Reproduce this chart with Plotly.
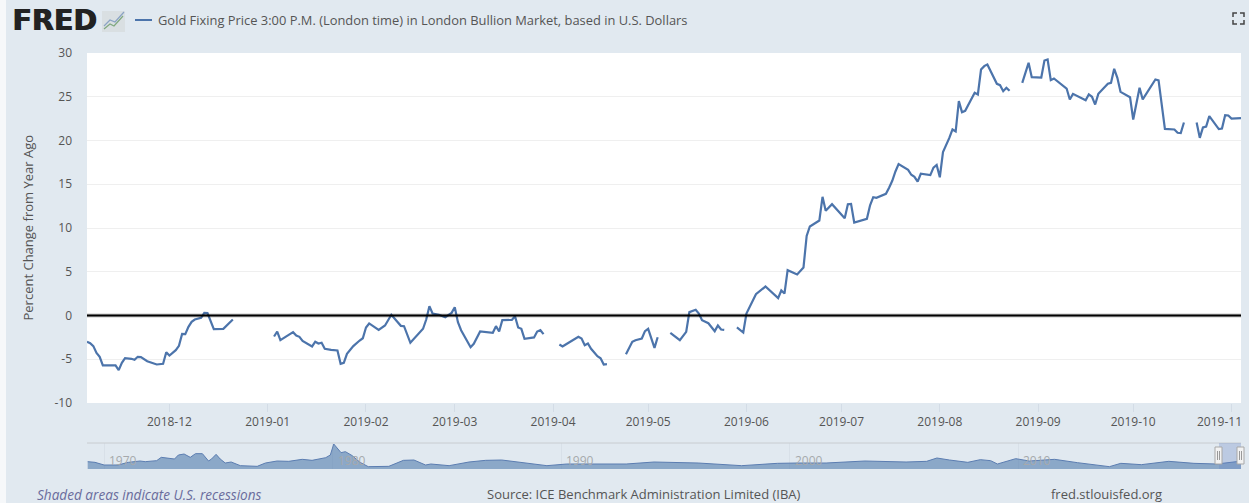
import pandas as pd
import plotly.graph_objects as go

W, H = 1249, 503
START = "2018-11-05"
END = "2019-11-04"

days_1 = [0,1,2,3,4,5,9,10,11,12,14,15,16,17,19,21,22,24,25,26,28,29,30,31,32,33,34,36,37,38,40,43,46]
pct_1 = [-3.0,-3.16,-3.5,-4.27,-4.72,-5.71,-5.71,-6.25,-5.4,-4.88,-4.95,-5.07,-4.72,-4.76,-5.22,-5.45,-5.6,-5.52,-4.2,-4.57,-3.96,-3.47,-2.1,-2.13,-1.3,-0.72,-0.46,-0.27,0.3,0.27,-1.56,-1.52,-0.46]
days_2 = [59,60,61,65,66,67,68,71,72,73,74,75,77,79,80,81,82,84,86,87,88,89,92,94,96,98,99,100,102,106,107,108,109,111,113,115,116,117,118,121,122,124,126,128,129,130,131,134,135,136,137,138,141,142,143,144]
pct_2 = [-2.4,-1.83,-2.82,-1.9,-2.29,-2.44,-2.9,-3.54,-3.0,-3.2,-3.12,-3.8,-3.92,-4.0,-5.52,-5.4,-4.38,-3.5,-2.86,-2.6,-1.37,-0.91,-1.64,-1.14,0.08,-0.76,-1.18,-1.22,-3.12,-1.52,-0.46,1.07,0.23,0.08,-0.19,0.3,0.95,-0.76,-1.68,-3.62,-3.24,-1.83,-1.94,-1.98,-1.22,-1.83,-0.53,-0.5,-0.08,-1.37,-1.52,-2.67,-2.51,-1.83,-1.68,-2.13]
days_3 = [149,150,151,155,156,157,158,159,161,162,163,164]
pct_3 = [-3.31,-3.54,-3.31,-2.44,-2.63,-3.39,-3.2,-3.81,-4.65,-4.88,-5.6,-5.56]
days_4 = [170,172,173,175,176,177,179,180]
pct_4 = [-4.42,-3.01,-2.82,-2.63,-1.79,-1.52,-3.7,-2.48]
days_5 = [184,187,189,190,192,193,194,196,198,199,200,201]
pct_5 = [-1.98,-2.82,-1.87,0.38,0.65,0.23,-0.53,-0.88,-1.79,-1.14,-1.6,-1.64]
days_6 = [205,207,208,211,214,218,219,220,221,224,226,227,228,231,232,233,235,239,240,241,242,246,247,248,249,252,253,254,255,256,259,260,261,262,263,266,267,268,269,270,272,273,274,275,276,277,280,281,282,283,284,287,288,289,290,291]
pct_6 = [-1.35,-1.94,0.23,2.44,3.31,1.98,2.86,2.51,5.18,4.69,5.49,9.1,10.17,10.86,13.56,11.96,12.72,11.12,12.72,12.76,10.63,11.05,12.6,13.52,13.45,13.9,14.6,15.4,16.46,17.3,16.65,16.08,15.85,15.3,16.2,16.04,16.9,17.2,15.8,18.67,20.3,21.26,21.03,24.5,23.24,23.39,25.45,25.26,28.11,28.5,28.69,26.48,26.32,25.64,26.02,25.68]
days_7 = [295,297,298,301,302,303,304,305,309,310,311,315,316,317,318,319,322,323,324,325,326,329,330,332,333,337,338,340,343,344,345,346]
pct_7 = [26.59,28.88,27.24,27.2,29.14,29.26,26.9,27.09,25.94,24.69,25.33,24.6,25.26,25.0,24.11,25.33,26.5,26.6,28.19,27.16,25.56,24.95,22.4,26.02,24.69,26.97,26.86,21.33,21.26,20.88,20.84,22.06]
days_8 = [350,351,352,353,354,357,358,359,360,361,364]
pct_8 = [22.06,20.3,21.49,21.6,22.78,21.3,21.37,22.9,22.86,22.51,22.55]

nav_year = [1969.28,1969.6,1970.0,1970.6,1971.06,1971.57,1971.8,1972.3,1972.5,1973.08,1973.25,1973.5,1973.77,1974.0,1974.3,1974.57,1974.7,1974.9,1975.08,1975.3,1975.56,1975.96,1976.7,1977.06,1977.57,1978.08,1978.67,1979.1,1979.7,1979.9,1980.05,1980.2,1980.37,1980.56,1980.86,1981.2,1981.56,1982.46,1982.97,1983.1,1983.56,1984.07,1984.3,1985.1,1985.97,1986.7,1987.4,1987.98,1989.38,1990.25,1991.66,1992.85,1994.07,1996.0,1997.9,1999.47,2000.35,2001.6,2003.3,2005.1,2006.0,2006.45,2007.0,2007.8,2008.35,2008.8,2009.1,2009.9,2010.5,2011.6,2012.6,2014.0,2014.5,2015.4,2016.6,2017.7,2018.7,2019.55,2019.8]
nav_level = [22,20,12,12,20,24,22,25,35,30,42,45,35,46,46,24,30,44,30,18,21,10,8,18,24,23,29,26,34,42,75,62,49,52,40,20,7,8,22,26,27,12,15,10,21,26,27,22,10,15,15,15,21,18,10,17,18,18,24,21,23,33,27,20,28,25,15,31,24,29,19,7,17,13,23,17,15,22,24]
nav_decades = [1970,1980,1990,2000,2010]

month_ticks = ["2018-12-01","2019-01-01","2019-02-01","2019-03-01","2019-04-01","2019-05-01","2019-06-01","2019-07-01","2019-08-01","2019-09-01","2019-10-01","2019-11-01"]
month_labels = ["2018-12","2019-01","2019-02","2019-03","2019-04","2019-05","2019-06","2019-07","2019-08","2019-09","2019-10",""]
y_ticks = [-10,-5,0,5,10,15,20,25,30]
y_labels = ["-10","-5","0","5","10","15","20","25","30"]

TITLE = "Gold Fixing Price 3:00 P.M. (London time) in London Bullion Market, based in U.S. Dollars"

BG = "#E1E9F0"
LINE = "#4C74AB"
TEXT = "#555555"
FONT = "Open Sans"

def px(x): return x / W
def py(y): return 1 - y / H

days, pct = [], []
segments = [(days_1,pct_1),(days_2,pct_2),(days_3,pct_3),(days_4,pct_4),(days_5,pct_5),(days_6,pct_6),(days_7,pct_7),(days_8,pct_8)]
for d, v in segments:
    days += d + [d[-1] + 1]
    pct += v + [None]
dates = (pd.Timestamp(START) + pd.to_timedelta(days, unit="D")).strftime("%Y-%m-%d").tolist()

fig = go.Figure()
fig.add_trace(go.Scatter(x=dates, y=pct, mode="lines", connectgaps=False,
                         line=dict(color=LINE, width=2.2), showlegend=False, hoverinfo="x+y"))
fig.add_trace(go.Scatter(x=nav_year, y=nav_level, mode="lines", xaxis="x2", yaxis="y2",
                         fill="tozeroy", fillcolor="rgba(69,114,167,0.55)",
                         line=dict(color="#5B7DB1", width=1), showlegend=False, hoverinfo="skip"))

def rect(x0, y0, x1, y1, fill, line=None, layer="below", lw=1):
    return dict(type="rect", xref="paper", yref="paper", x0=px(x0), x1=px(x1), y0=py(y0), y1=py(y1),
                fillcolor=fill, line=dict(color=line or "rgba(0,0,0,0)", width=lw if line else 0), layer=layer)

def pline(pts, color, width=1.2, layer="above"):
    path = "M " + " L ".join(f"{px(x):.5f},{py(y):.5f}" for x, y in pts)
    return dict(type="path", xref="paper", yref="paper", path=path, line=dict(color=color, width=width), layer=layer)

shapes = [
    rect(0, 0, 6, 503, "#F6F8FA"),
    rect(87, 53, 1241, 403, "#FFFFFF"),
    dict(type="line", xref="x domain", yref="y", x0=0, x1=1, y0=0, y1=0,
         line=dict(color="rgba(0,0,0,0.22)", width=4), layer="above"),
    dict(type="line", xref="x domain", yref="y", x0=0, x1=1, y0=0, y1=0,
         line=dict(color="#000000", width=2), layer="above"),
    # legend sample
    pline([(135, 20), (152, 20)], LINE, 2),
    # FRED icon
    rect(102, 11, 125, 32, "#D9DFE2"),
    pline([(104, 29), (110, 24), (114, 26), (123, 16)], "#7FA87F", 1.2),
    pline([(104, 26), (110, 20), (115, 22), (124, 12)], "#8AA3C4", 1.2),
    # navigator
    pline([(87, 443), (1241, 443)], "#C8CCD0", 1),
    rect(1219, 443, 1241, 469, "rgba(102,133,194,0.3)", layer="above"),
    rect(1215, 447, 1222, 464, "#F2F2F2", "#A8A8A8", layer="above"),
    rect(1237, 447, 1244, 464, "#F2F2F2", "#A8A8A8", layer="above"),
    pline([(1217.5, 451), (1217.5, 460)], "#999999", 1),
    pline([(1219.5, 451), (1219.5, 460)], "#999999", 1),
    pline([(1239.5, 451), (1239.5, 460)], "#999999", 1),
    pline([(1241.5, 451), (1241.5, 460)], "#999999", 1),
    # full-screen icon
    pline([(1233, 17), (1233, 13), (1237, 13)], "#444444", 1.5),
    pline([(1240, 13), (1244, 13), (1244, 17)], "#444444", 1.5),
    pline([(1233, 20), (1233, 24), (1237, 24)], "#444444", 1.5),
    pline([(1240, 24), (1244, 24), (1244, 20)], "#444444", 1.5),
]

def note(x, y, text, size=12, color=TEXT, anchor="left", family=FONT, shadow=None, **kw):
    font = dict(family=family, size=size, color=color)
    if shadow:
        font["shadow"] = shadow
    return dict(xref="paper", yref="paper", x=px(x), y=py(y), text=text, showarrow=False,
                xanchor=anchor, yanchor="middle", borderpad=0, font=font, **kw)

annotations = [
    note(11, 21, "<b>FRED</b>", size=28.5, color="#222222", family="DejaVu Sans",
         shadow="1px 0 0 #222222"),
    note(157, 20, TITLE, size=12.9),
    note(27.5, 228, "Percent Change from Year Ago", size=13, anchor="center", textangle=-90),
    note(1219, 421, "2019-11", size=12, anchor="center"),
    note(36, 494, "<i>Shaded areas indicate U.S. recessions</i>", size=13.6, color="#6A6C9C"),
    note(644, 494, "Source: ICE Benchmark Administration Limited (IBA)", size=13, anchor="center"),
    note(1106, 494, "fred.stlouisfed.org", size=13, anchor="center"),
]
for yr in nav_decades:
    annotations.append(dict(xref="x2", yref="paper", x=yr, y=py(460.5), text=str(yr), showarrow=False,
                            xanchor="left", yanchor="middle", xshift=4, borderpad=0,
                            font=dict(family=FONT, size=12, color="#A6A9AC")))

fig.update_layout(
    width=W, height=H, autosize=False,
    margin=dict(l=0, r=0, t=0, b=0, autoexpand=False),
    paper_bgcolor=BG, plot_bgcolor=BG,
    font=dict(family=FONT, size=12, color=TEXT),
    showlegend=False,
    shapes=shapes, annotations=annotations,
    xaxis=dict(domain=[px(87), px(1241)], type="date", range=[START, END], anchor="y",
               tickmode="array", tickvals=month_ticks, ticktext=month_labels,
               ticks="outside", ticklen=8, tickwidth=1, tickcolor="#D3DCE6",
               showgrid=False, zeroline=False, showline=False,
               tickfont=dict(family=FONT, size=12, color=TEXT)),
    yaxis=dict(domain=[py(403), py(53)], range=[-10, 30], anchor="x",
               tickmode="array", tickvals=y_ticks, ticktext=y_labels,
               ticks="", ticklabelstandoff=14, showgrid=True, gridcolor="#EFEFEF", gridwidth=1,
               zeroline=False, showline=False,
               tickfont=dict(family=FONT, size=12, color=TEXT)),
    xaxis2=dict(domain=[px(87), px(1241)], range=[1969.25, 2019.76], anchor="y2",
                tickmode="array", tickvals=nav_decades, showticklabels=False, ticks="",
                showgrid=True, gridcolor="#D8E0E8", gridwidth=1, zeroline=False, showline=False),
    yaxis2=dict(domain=[py(469), py(443)], range=[0, 78], anchor="x2",
                showticklabels=False, ticks="", showgrid=False, zeroline=False, showline=False),
)

fig.write_html("out.html", config=dict(displayModeBar=False),
               post_script="document.body.style.margin='0';document.body.style.overflow='hidden';")
